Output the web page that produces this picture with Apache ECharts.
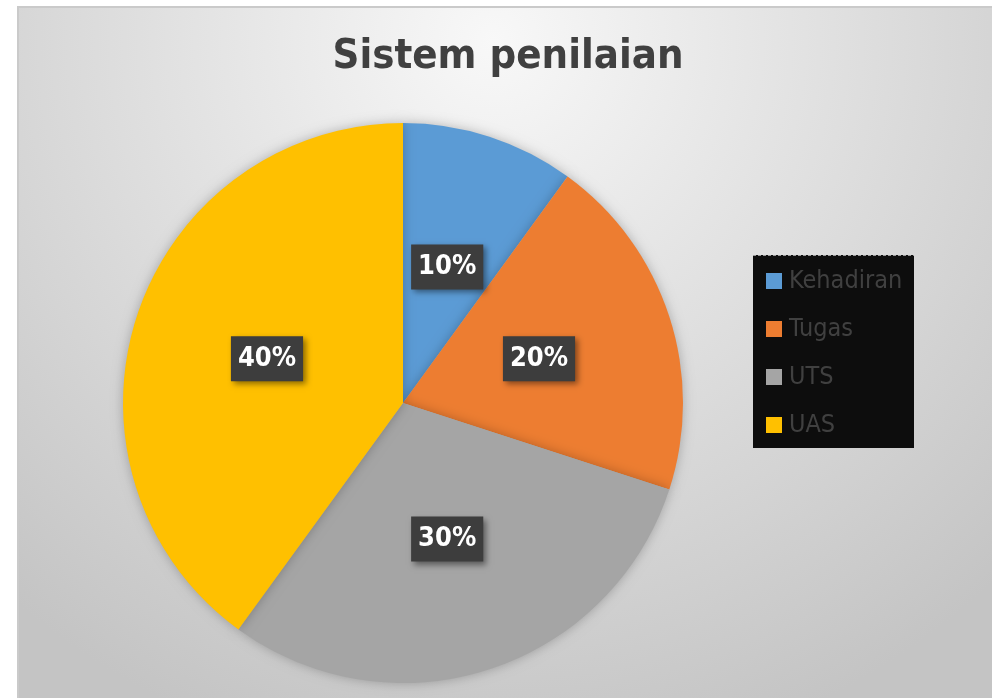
<!DOCTYPE html>
<html>
<head>
<meta charset="utf-8">
<script src="https://cdn.jsdelivr.net/npm/echarts@6/dist/echarts.min.js"></script>
<style>
  html, body { margin: 0; padding: 0; background: #fff; }
  #chart { width: 992px; height: 698px; }
</style>
</head>
<body>
<div id="chart"></div>
<script>
// data
const categories = ['Kehadiran', 'Tugas', 'UTS', 'UAS'];
const values = [10, 20, 30, 40];
const colors = ['#5b9bd5', '#ed7d31', '#a5a5a5', '#ffc000'];

const narrow = "'Liberation Sans Narrow', 'DejaVu Sans Condensed', sans-serif";

const chart = echarts.init(document.getElementById('chart'));

chart.setOption({
    animation: false,
    color: colors,
    title: {
        text: 'Sistem penilaian',
        left: 503,
        top: 31,
        textAlign: 'center',
        textStyle: {
            fontFamily: narrow,
            fontSize: 41.5,
            fontWeight: 'bold',
            color: '#404040'
        }
    },
    // chart area background + legend box
    graphic: [
        {
            type: 'rect',
            z: -10,
            shape: { x: 18, y: 7, width: 990, height: 700 },
            style: {
                fill: new echarts.graphic.RadialGradient(0.48, 0.05, 1.05, [
                    { offset: 0, color: '#f8f8f8' },
                    { offset: 1, color: '#c4c4c4' }
                ]),
                stroke: '#cacaca',
                lineWidth: 2
            }
        },
        {
            type: 'rect',
            z: 1,
            shape: { x: 753, y: 255, width: 161, height: 193 },
            style: { fill: '#0d0d0d' }
        },
        {
            type: 'line',
            z: 2,
            shape: { x1: 753, y1: 255.5, x2: 914, y2: 255.5 },
            style: { stroke: '#9a9a9a', lineWidth: 1, lineDash: [3, 2] }
        }
    ],
    legend: {
        orient: 'vertical',
        left: 753,
        top: 255,
        padding: [13, 8, 13, 13],
        itemWidth: 16,
        itemHeight: 16,
        itemGap: 22,
        icon: 'rect',
        data: categories,
        textStyle: {
            fontFamily: narrow,
            fontSize: 25,
            lineHeight: 26,
            color: '#404040',
            padding: [0, 0, 0, 2]
        }
    },
    series: [{
        name: 'Sistem penilaian',
        type: 'pie',
        center: [403, 403],
        radius: 280,
        startAngle: 90,
        clockwise: true,
        itemStyle: {
            shadowBlur: 12,
            shadowColor: 'rgba(0,0,0,0.25)'
        },
        label: {
            show: true,
            position: 'inside',
            formatter: '{c}%',
            fontFamily: narrow,
            fontSize: 27,
            fontWeight: 'bold',
            color: '#ffffff',
            backgroundColor: '#3d3d3d',
            padding: [9, 7, 9, 7],
            shadowBlur: 6,
            shadowOffsetX: 3,
            shadowOffsetY: 3,
            shadowColor: 'rgba(0,0,0,0.45)'
        },
        labelLine: { show: false },
        emphasis: { disabled: true },
        data: categories.map((name, i) => ({ name: name, value: values[i] }))
    }]
});
</script>
</body>
</html>
